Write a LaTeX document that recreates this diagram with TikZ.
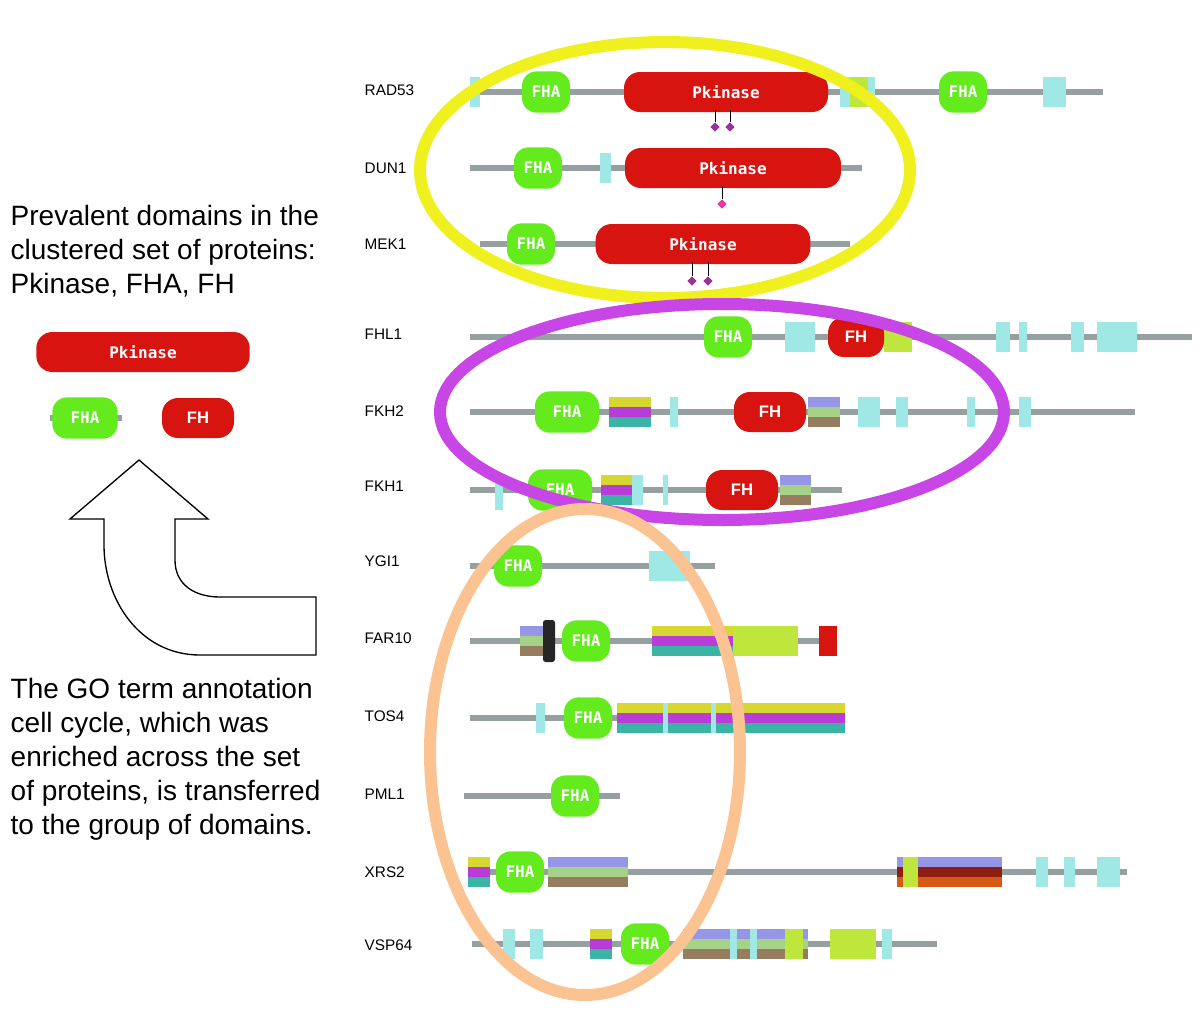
\documentclass[tikz,border=0pt]{standalone}
\usepackage{fontspec}
\setmainfont{Liberation Sans}
\newfontfamily\dm{DejaVu Sans Mono}
\usetikzlibrary{shapes.geometric}
\definecolor{ln}{RGB}{150,160,160}
\definecolor{cyb}{RGB}{160,232,230}
\definecolor{sy}{RGB}{215,215,50}
\definecolor{sm}{RGB}{185,60,215}
\definecolor{st}{RGB}{60,180,165}
\definecolor{sb}{RGB}{150,150,230}
\definecolor{sg}{RGB}{165,210,135}
\definecolor{sbr}{RGB}{150,125,95}
\definecolor{lime}{RGB}{190,230,60}
\definecolor{fhagreen}{RGB}{100,235,30}
\definecolor{pkred}{RGB}{215,20,15}
\definecolor{dred}{RGB}{140,30,20}
\definecolor{org}{RGB}{215,90,20}
\definecolor{ringy}{RGB}{240,240,30}
\definecolor{ringm}{RGB}{200,70,230}
\definecolor{ringo}{RGB}{250,195,145}
\newcommand\cyb[3]{\fill[cyb] (#1,#3-15) rectangle (#2,#3+15);}
\newcommand\blk[4]{\fill[#4] (#1,#3-15) rectangle (#2,#3+15);}
\newcommand\strp[6]{\fill[#4] (#1,#3-15) rectangle (#2,#3-5);\fill[#5] (#1,#3-5) rectangle (#2,#3+5);\fill[#6] (#1,#3+5) rectangle (#2,#3+15);}
\begin{document}
\begin{tikzpicture}[x=0.75pt,y=-0.75pt,
 lab/.style={anchor=west,font=\fontsize{11.5}{13}\selectfont},
 big/.style={anchor=west,align=left,font=\fontsize{21}{25.5}\selectfont},
 line/.style={draw=ln,line width=3.8pt},
 fha/.style={fill=fhagreen,rounded corners=11pt,minimum width=36pt,minimum height=31pt,inner sep=0pt,text=white,font=\dm\bfseries\fontsize{12}{13}\selectfont},
 pk/.style={fill=pkred,rounded corners=12pt,minimum height=30pt,inner sep=0pt,text=white,font=\dm\bfseries\fontsize{12}{13}\selectfont},
 fh/.style={pk,minimum width=54pt,font=\bfseries\fontsize{12.5}{13}\selectfont},
 dia/.style={diamond,fill=#1,inner sep=0pt,minimum size=7pt},
 ring/.style={draw=#1,line width=9pt}]
\useasboundingbox (0,0) rectangle (1200,1015);
% left text
\node[big] (t1) at (6,251) {Prevalent domains in the\\clustered set of proteins:\\Pkinase, FHA, FH};
\node[big] (t2) at (6,759) {The GO term annotation\\cell cycle, which was\\enriched across the set\\of proteins, is transferred\\to the group of domains.};
\node[pk,minimum width=160pt] (lpk) at (143,352) {Pkinase};
\draw[line] (50,418) -- (122,418);
\node[fha,minimum width=49pt] (lfha) at (85,418) {FHA};
\node[fh] (lfh) at (198,418) {FH};
\draw[line width=1pt,fill=white] (139,460) -- (208,519) -- (175,519) -- (175,560) .. controls (175,585) and (195,597) .. (220,597) -- (316,597) -- (316,655) -- (200,655) .. controls (140,655) and (104,600) .. (104,545) -- (104,519) -- (70,519) -- cycle;
% row labels
\foreach \n/\y in {RAD53/90,DUN1/168,MEK1/244,FHL1/334,FKH2/411,FKH1/486,YGI1/561,FAR10/638,TOS4/716,PML1/794,XRS2/872,VSP64/945}
  \node[lab] (l\n) at (360,\y) {\n};
% RAD53
\draw[line] (470,92) -- (1103,92);
\cyb{470}{480}{92}\cyb{840}{875}{92}\blk{850}{868}{92}{lime}\cyb{1043}{1066}{92}
\node[fha] (r1a) at (546,92) {FHA};
\node[pk,minimum width=153pt] (r1p) at (726,92) {Pkinase};
\node[fha] (r1b) at (963,92) {FHA};
\node[dia=violet!80] (d1) at (715,127) {};\node[dia=violet!80] (d2) at (730,127) {};
\draw (715,110) -- (d1) (730,110) -- (d2);
% DUN1
\draw[line] (470,168) -- (862,168);
\node[fha] (r2a) at (538,168) {FHA};\cyb{600}{611}{168}
\node[pk,minimum width=162pt] (r2p) at (733,168) {Pkinase};
\node[dia=magenta!80] (d3) at (722,204) {};\draw (722,186) -- (d3);
% MEK1
\draw[line] (480,244) -- (850,244);
\node[fha] (r3a) at (531,244) {FHA};
\node[pk,minimum width=161pt] (r3p) at (703,244) {Pkinase};
\node[dia=violet!80] (d4) at (692,281) {};\node[dia=violet!80] (d5) at (708,281) {};
\draw (692,262) -- (d4) (708,262) -- (d5);
% FHL1
\draw[line] (470,337) -- (1192,337);
\node[fha] (r4a) at (728,337) {FHA};\cyb{785}{815}{337}
\blk{884}{912}{337}{lime}
\node[fh,minimum width=42pt] (r4f) at (856,337) {FH};
\cyb{996}{1010}{337}\cyb{1019}{1027}{337}\cyb{1071}{1084}{337}\cyb{1097}{1137}{337}
% FKH2
\draw[line] (470,412) -- (1135,412);
\node[fha,minimum width=48pt] (r5a) at (567,412) {FHA};
\strp{609}{651}{412}{sy}{sm}{st}\cyb{670}{678}{412}
\node[fh] (r5f) at (770,412) {FH};
\strp{808}{840}{412}{sb}{sg}{sbr}
\cyb{858}{880}{412}\cyb{896}{908}{412}\cyb{967}{975}{412}\cyb{1019}{1031}{412}
% FKH1
\draw[line] (470,490) -- (842,490);
\cyb{495}{503}{495}
\node[fha,minimum width=48pt] (r6a) at (560,490) {FHA};
\strp{601}{632}{490}{sy}{sm}{st}\cyb{632}{643}{490}\cyb{663}{668}{490}
\node[fh] (r6f) at (742,490) {FH};
\strp{780}{811}{490}{sb}{sg}{sbr}
% YGI1
\draw[line] (470,566) -- (715,566);
\node[fha] (r7a) at (518,566) {FHA};\cyb{649}{690}{566}
% FAR10
\draw[line] (470,641) -- (835,641);
\strp{520}{545}{641}{sb}{sg}{sbr}
\fill[black!85,rounded corners=2pt] (543,620) rectangle (555,662);
\node[fha] (r8a) at (586,641) {FHA};
\strp{652}{735}{641}{sy}{sm}{st}\blk{733}{758}{641}{lime}\blk{758}{798}{641}{lime}
\blk{819}{837}{641}{pkred}
% TOS4
\draw[line] (470,718) -- (845,718);
\cyb{536}{545}{718}
\node[fha] (r9a) at (588,718) {FHA};
\strp{617}{845}{718}{sy}{sm}{st}\cyb{663}{668}{718}\cyb{711}{716}{718}
% PML1
\draw[line] (464,796) -- (620,796);
\node[fha] (r10a) at (575,796) {FHA};
% XRS2
\draw[line] (468,872) -- (1127,872);
\strp{468}{490}{872}{sy}{sm}{st}
\node[fha] (r11a) at (520,872) {FHA};
\strp{548}{628}{872}{sb}{sg}{sbr}
\strp{897}{1002}{872}{sb}{dred}{org}\blk{903}{918}{872}{lime}
\cyb{1036}{1048}{872}\cyb{1064}{1075}{872}\cyb{1097}{1120}{872}
% VSP64
\draw[line] (472,944) -- (937,944);
\cyb{503}{515}{944}\cyb{530}{543}{944}
\strp{590}{612}{944}{sy}{sm}{st}
\node[fha] (r12a) at (645,944) {FHA};
\strp{683}{808}{944}{sb}{sg}{sbr}\cyb{730}{737}{944}\cyb{750}{757}{944}\blk{785}{803}{944}{lime}
\blk{830}{876}{944}{lime}\cyb{882}{892}{944}
% rings
\draw[ring=ringy] (665,170) ellipse [x radius=245,y radius=128];
\draw[ring=ringm] (722,412) ellipse [x radius=282,y radius=108];
\draw[ring=ringo] (585,752) ellipse [x radius=155,y radius=243];
\end{tikzpicture}
\end{document}
